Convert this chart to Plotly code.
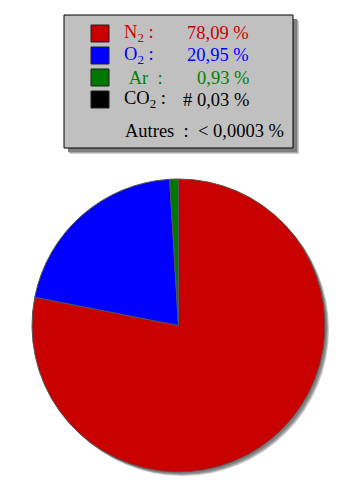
import plotly.graph_objects as go

W, H = 358, 493

gases = ["N2", "O2", "Ar", "CO2"]
gas_labels = ["N<sub>2</sub> :", "O<sub>2</sub> :", " Ar  :", "CO<sub>2</sub> :"]
values = [78.09, 20.95, 0.93, 0.03]
value_texts = ["78,09 %", "20,95 %", "0,93 %", "# 0,03 %"]
slice_colors = ["#c80000", "#0000ff", "#007800", "#000000"]
text_colors = ["#c80000", "#0000ff", "#008000", "#000000"]
other_label = "Autres  :  < 0,0003 %"

def px(x):
    return x / W

def py(y):
    return 1 - y / H

# pie geometry (pixels)
cx, cy, r = 178.5, 325.5, 146.5

fig = go.Figure()
fig.add_trace(go.Pie(
    labels=gases, values=values, sort=False, direction="clockwise", rotation=0,
    marker=dict(colors=slice_colors, line=dict(color="#555555", width=1)),
    textinfo="none", hoverinfo="label+percent", showlegend=False,
    domain=dict(x=[px(cx - r), px(cx + r)], y=[py(cy + r), py(cy - r)]),
))

shapes = []
# pie shadow
for off, col in [(4, "#c8c8c8"), (3, "#a0a0a0"), (2, "#808080")]:
    shapes.append(dict(type="circle", xref="paper", yref="paper", layer="below",
                       x0=px(cx - r + off), x1=px(cx + r + off),
                       y0=py(cy + r + off), y1=py(cy - r + off),
                       fillcolor=col, line=dict(width=0)))

# legend box shadow and box
bx0, by0, bx1, by1 = 64, 15, 293, 148
for off, col in [(6, "#d0d0d0"), (5, "#a8a8a8"), (4, "#808080")]:
    shapes.append(dict(type="rect", xref="paper", yref="paper", layer="below",
                       x0=px(bx0 + off), x1=px(bx1 + off), y0=py(by1 + off), y1=py(by0 + off),
                       fillcolor=col, line=dict(width=0)))
shapes.append(dict(type="rect", xref="paper", yref="paper", layer="below",
                   x0=px(bx0), x1=px(bx1), y0=py(by1), y1=py(by0),
                   fillcolor="#c0c0c0", line=dict(color="#000000", width=1)))

annotations = []
row_centers = [33.5, 55.5, 77.5, 99.5]
FS = 18.5
for i, g in enumerate(gases):
    yc = row_centers[i]
    shapes.append(dict(type="rect", xref="paper", yref="paper",
                       x0=px(91), x1=px(109), y0=py(yc + 8.5), y1=py(yc - 8.5),
                       fillcolor=slice_colors[i], line=dict(color="#202020", width=1)))
    annotations.append(dict(x=px(122), y=py(yc), xref="paper", yref="paper",
                            xanchor="left", yanchor="middle", showarrow=False,
                            text=gas_labels[i].replace(" ", "&nbsp;"),
                            font=dict(family="Liberation Serif", size=FS, color=text_colors[i])))
    annotations.append(dict(x=px(251), y=py(yc), xref="paper", yref="paper",
                            xanchor="right", yanchor="middle", showarrow=False,
                            text=value_texts[i],
                            font=dict(family="Liberation Serif", size=FS, color=text_colors[i])))
annotations.append(dict(x=px(123), y=py(131), xref="paper", yref="paper",
                        xanchor="left", yanchor="middle", showarrow=False,
                        text=other_label.replace(" ", "&nbsp;"),
                        font=dict(family="Liberation Serif", size=FS, color="#000000")))

fig.update_layout(width=W, height=H, margin=dict(l=0, r=0, t=0, b=0),
                  paper_bgcolor="white", plot_bgcolor="white",
                  shapes=shapes, annotations=annotations)
fig.write_html("out.html")
